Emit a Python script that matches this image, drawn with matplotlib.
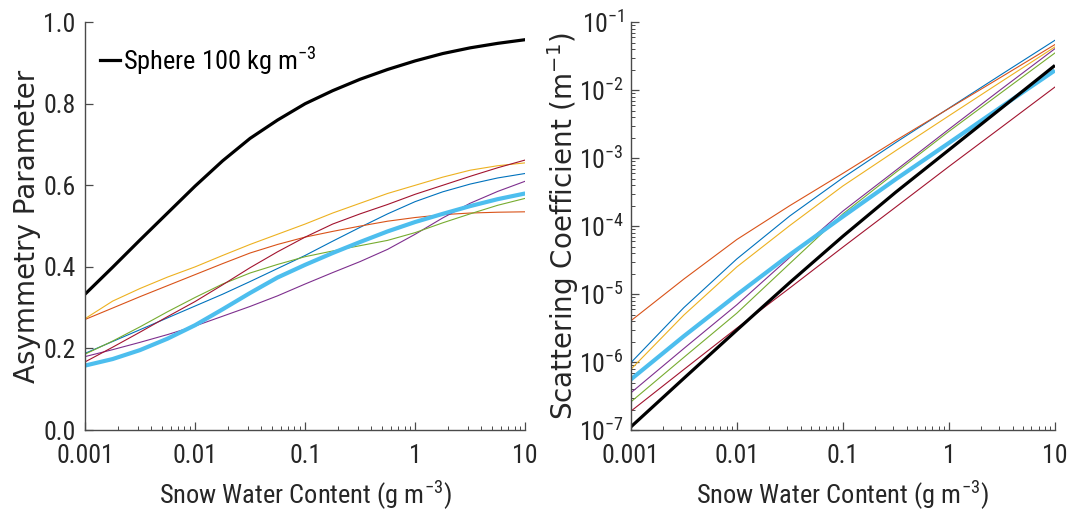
import matplotlib
matplotlib.use("Agg")
import matplotlib.pyplot as plt
from matplotlib.ticker import FixedLocator, FixedFormatter, LogLocator, NullFormatter, NullLocator
from matplotlib.lines import Line2D

# ---- data -------------------------------------------------------------
# Asymmetry parameter vs snow water content (g m^-3), quarter-decade samples
swc_g = [0.001, 0.00178, 0.00316, 0.00562, 0.01, 0.0178, 0.0316, 0.0562, 0.1,
         0.178, 0.316, 0.562, 1.0, 1.78, 3.16, 5.62, 10.0]
g_sphere = [0.333, 0.399, 0.466, 0.532, 0.598, 0.660, 0.715, 0.760, 0.800,
            0.832, 0.860, 0.884, 0.905, 0.923, 0.937, 0.948, 0.957]
g_blue = [0.188, 0.217, 0.246, 0.275, 0.304, 0.333, 0.364, 0.396, 0.428,
          0.463, 0.497, 0.530, 0.560, 0.584, 0.603, 0.618, 0.629]
g_orange = [0.271, 0.299, 0.327, 0.354, 0.381, 0.408, 0.434, 0.455, 0.473,
            0.487, 0.500, 0.512, 0.521, 0.528, 0.532, 0.534, 0.535]
g_yellow = [0.273, 0.316, 0.347, 0.375, 0.400, 0.428, 0.455, 0.480, 0.505,
            0.532, 0.556, 0.580, 0.600, 0.620, 0.637, 0.648, 0.655]
g_purple = [0.180, 0.197, 0.215, 0.234, 0.255, 0.279, 0.303, 0.329, 0.358,
            0.386, 0.413, 0.443, 0.480, 0.520, 0.556, 0.585, 0.610]
g_green = [0.186, 0.218, 0.253, 0.290, 0.325, 0.358, 0.385, 0.406, 0.425,
           0.439, 0.452, 0.465, 0.484, 0.508, 0.530, 0.551, 0.568]
g_mean = [0.158, 0.174, 0.196, 0.224, 0.257, 0.296, 0.336, 0.374, 0.405,
          0.434, 0.461, 0.487, 0.510, 0.530, 0.549, 0.566, 0.580]
g_darkred = [0.167, 0.203, 0.240, 0.278, 0.315, 0.356, 0.398, 0.437, 0.473,
             0.505, 0.530, 0.553, 0.578, 0.600, 0.622, 0.643, 0.662]

# Scattering coefficient (m^-1) vs snow water content (g m^-3)
swc_k = [0.001, 0.00316, 0.01, 0.0316, 0.1, 0.316, 1.0, 3.16, 10.0]
k_sphere = [1.11e-7, 5.75e-7, 2.95e-6, 1.48e-5, 7.08e-5, 3.16e-4, 1.32e-3, 5.50e-3, 2.31e-2]
k_blue = [9.77e-7, 6.31e-6, 3.29e-5, 1.41e-4, 5.13e-4, 1.70e-3, 5.42e-3, 1.72e-2, 5.41e-2]
k_orange = [4.04e-6, 1.66e-5, 6.35e-5, 2.00e-4, 5.96e-4, 1.82e-3, 5.37e-3, 1.58e-2, 4.68e-2]
k_yellow = [7.80e-7, 4.90e-6, 2.51e-5, 1.02e-4, 3.89e-4, 1.29e-3, 4.19e-3, 1.35e-2, 4.32e-2]
k_purple = [3.52e-7, 1.58e-6, 6.95e-6, 3.47e-5, 1.66e-4, 6.61e-4, 2.66e-3, 1.05e-2, 4.07e-2]
k_green = [2.59e-7, 1.17e-6, 5.24e-6, 2.82e-5, 1.51e-4, 6.17e-4, 2.47e-3, 9.33e-3, 3.52e-2]
k_mean = [5.55e-7, 2.40e-6, 9.77e-6, 3.80e-5, 1.38e-4, 4.90e-4, 1.67e-3, 5.75e-3, 1.95e-2]
k_darkred = [1.89e-7, 7.76e-7, 3.16e-6, 1.23e-5, 4.90e-5, 1.91e-4, 7.52e-4, 2.88e-3, 1.11e-2]

x_ticks = [0.001, 0.01, 0.1, 1, 10]
x_ticklabels = ["0.001", "0.01", "0.1", "1", "10"]
g_ticks = [0.0, 0.2, 0.4, 0.6, 0.8, 1.0]
g_ticklabels = ["0.0", "0.2", "0.4", "0.6", "0.8", "1.0"]
k_ticks = [1e-7, 1e-6, 1e-5, 1e-4, 1e-3, 1e-2, 1e-1]
k_ticklabels = [r"$10^{-7}$", r"$10^{-6}$", r"$10^{-5}$", r"$10^{-4}$",
                r"$10^{-3}$", r"$10^{-2}$", r"$10^{-1}$"]
legend_label = r"Sphere 100 kg m$^{-3}$"

# ---- style ------------------------------------------------------------
plt.rcParams["font.family"] = ["Roboto Condensed", "Roboto", "DejaVu Sans"]
plt.rcParams["mathtext.default"] = "regular"

AX_COLOR = "#4a4a4a"
TXT_COLOR = "#262626"
C_BLUE, C_ORANGE, C_YELLOW = "#0072BD", "#D95319", "#EDB120"
C_PURPLE, C_GREEN, C_LBLUE, C_DRED = "#7E2F8E", "#77AC30", "#4DBEEE", "#A2142F"

THIN = 0.8

fig = plt.figure(figsize=(10.71, 5.15), dpi=100)
axL = fig.add_axes([0.0794, 0.165, 0.411, 0.792])
axR = fig.add_axes([0.589, 0.165, 0.396, 0.792])


def style_axes(ax):
    for side in ("top", "right"):
        ax.spines[side].set_visible(False)
    for side in ("left", "bottom"):
        ax.spines[side].set_color(AX_COLOR)
        ax.spines[side].set_linewidth(1.0)
    ax.tick_params(which="major", direction="in", length=6, width=0.9,
                   color=AX_COLOR, labelcolor=TXT_COLOR, labelsize=18.5)
    ax.tick_params(which="minor", direction="in", length=3, width=0.7,
                   color=AX_COLOR)
    ax.tick_params(axis="x", which="major", pad=10)
    ax.set_xscale("log")
    ax.set_xlim(1e-3, 10)
    ax.xaxis.set_major_locator(FixedLocator(x_ticks))
    ax.xaxis.set_major_formatter(FixedFormatter(x_ticklabels))
    ax.xaxis.set_minor_locator(LogLocator(base=10, subs=range(2, 10), numticks=20))
    ax.xaxis.set_minor_formatter(NullFormatter())
    ax.set_xlabel(r"Snow Water Content (g m$^{-3}$)", fontsize=19, color=TXT_COLOR)
    ax.xaxis.set_label_coords(0.5, -0.12)


# ---- left: asymmetry parameter -----------------------------------------
style_axes(axL)
for vals, col in ((g_blue, C_BLUE), (g_orange, C_ORANGE), (g_yellow, C_YELLOW),
                  (g_purple, C_PURPLE), (g_green, C_GREEN), (g_darkred, C_DRED)):
    axL.plot(swc_g, vals, color=col, lw=THIN)
axL.plot(swc_g, g_mean, color=C_LBLUE, lw=3.0, solid_capstyle="butt")
axL.plot(swc_g, g_sphere, color="black", lw=2.3, solid_capstyle="butt")
axL.set_ylim(0, 1)
axL.yaxis.set_major_locator(FixedLocator(g_ticks))
axL.yaxis.set_major_formatter(FixedFormatter(g_ticklabels))
axL.yaxis.set_minor_locator(NullLocator())
axL.tick_params(axis="y", which="major", pad=7)
axL.set_ylabel("Asymmetry Parameter", fontsize=20, color=TXT_COLOR,
               family=["DejaVu Sans"])
axL.yaxis.set_label_coords(-0.10, 0.5)

handle = Line2D([], [], color="black", lw=2.3)
axL.legend([handle], [legend_label], loc="upper left",
           bbox_to_anchor=(0.035, 0.945), frameon=False, fontsize=19,
           handlelength=0.75, handletextpad=0.12, borderaxespad=0, borderpad=0)

# ---- right: scattering coefficient --------------------------------------
style_axes(axR)
for vals, col in ((k_blue, C_BLUE), (k_orange, C_ORANGE), (k_yellow, C_YELLOW),
                  (k_purple, C_PURPLE), (k_green, C_GREEN), (k_darkred, C_DRED)):
    axR.plot(swc_k, vals, color=col, lw=THIN)
axR.plot(swc_k, k_mean, color=C_LBLUE, lw=3.0, solid_capstyle="butt")
axR.plot(swc_k, k_sphere, color="black", lw=2.3, solid_capstyle="butt")
axR.set_yscale("log")
axR.set_ylim(1e-7, 1e-1)
axR.yaxis.set_major_locator(FixedLocator(k_ticks))
axR.yaxis.set_major_formatter(FixedFormatter(k_ticklabels))
axR.yaxis.set_minor_locator(LogLocator(base=10, subs=range(2, 10), numticks=20))
axR.yaxis.set_minor_formatter(NullFormatter())
axR.tick_params(axis="y", which="major", pad=5)
axR.set_ylabel(r"Scattering Coefficient (m$^{-1}$)", fontsize=20, color=TXT_COLOR,
               family=["DejaVu Sans"])
axR.yaxis.set_label_coords(-0.117, 0.5)

fig.savefig("out.png", dpi=100)
